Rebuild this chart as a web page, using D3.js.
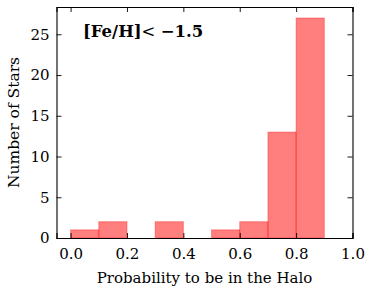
<!DOCTYPE html>
<html lang="en">
<head>
  <meta charset="UTF-8">
  <title>Halo probability</title>
  <script src="https://d3js.org/d3.v7.min.js"></script>
  <style>
    body { margin: 0; background: #fff; }
    .axis path, .axis line { stroke: #000; }
  </style>
</head>
<body>
  <svg id="chart" width="371" height="294"></svg>
  <script>
    // histogram bins (left edges), width 0.1
    const binStarts = [0.0, 0.1, 0.2, 0.3, 0.4, 0.5, 0.6, 0.7, 0.8];
    const counts = [1, 2, 0, 2, 0, 1, 2, 13, 27];
    const binWidth = 0.1;

    const xTicks = [0.0, 0.2, 0.4, 0.6, 0.8, 1.0];
    const yTicks = [0, 5, 10, 15, 20, 25];

    const serif = 'DejaVu Serif';

    const svg = d3.select('#chart');
    const mLeft = 56.5, mRight = 352.5, mTop = 7, mBottom = 238;

    const x = d3.scaleLinear().domain([-0.05, 1.0]).range([mLeft, mRight]);
    const y = d3.scaleLinear().domain([0, 28.35]).range([mBottom, mTop]);

    // bars
    svg.append('g')
      .selectAll('rect')
      .data(binStarts.map((b, i) => ({ b, c: counts[i] })).filter(d => d.c > 0))
      .enter()
      .append('rect')
      .attr('x', d => x(d.b))
      .attr('width', d => x(d.b + binWidth) - x(d.b))
      .attr('y', d => y(d.c))
      .attr('height', d => y(0) - y(d.c))
      .attr('fill', 'rgba(255,0,0,0.5)')
      .attr('stroke', 'rgba(255,0,0,0.35)')
      .attr('stroke-width', 1);

    const xMinor = d3.range(-0.05, 1.0001, 0.05).map(v => +v.toFixed(2));
    const yMinor = d3.range(0, 29, 1);

    const fmtX = d3.format('.1f');

    // bottom axis, ticks inward
    const gB = svg.append('g').attr('class', 'axis').attr('transform', `translate(0,${mBottom})`);
    gB.call(d3.axisBottom(x).tickValues(xMinor).tickSize(-2.5).tickFormat(''));
    gB.call(d3.axisBottom(x).tickValues(xTicks).tickSize(-5).tickPadding(10).tickFormat(fmtX));
    // top axis
    const gT = svg.append('g').attr('class', 'axis').attr('transform', `translate(0,${mTop})`);
    gT.call(d3.axisTop(x).tickValues(xMinor).tickSize(-2.5).tickFormat(''));
    gT.call(d3.axisTop(x).tickValues(xTicks).tickSize(-5).tickFormat(''));
    // left axis
    const gL = svg.append('g').attr('class', 'axis').attr('transform', `translate(${mLeft},0)`);
    gL.call(d3.axisLeft(y).tickValues(yMinor).tickSize(-2.5).tickFormat(''));
    gL.call(d3.axisLeft(y).tickValues(yTicks).tickSize(-5).tickPadding(7).tickFormat(d3.format('d')));
    // right axis
    const gR = svg.append('g').attr('class', 'axis').attr('transform', `translate(${mRight},0)`);
    gR.call(d3.axisRight(y).tickValues(yMinor).tickSize(-2.5).tickFormat(''));
    gR.call(d3.axisRight(y).tickValues(yTicks).tickSize(-5).tickFormat(''));

    svg.selectAll('.axis').attr('font-family', serif).attr('font-size', 15);
    svg.selectAll('.axis path').attr('stroke-width', 1.1);
    svg.selectAll('.axis line').attr('stroke-width', 0.9);
    svg.selectAll('.axis text').attr('fill', '#000');

    // axis labels
    svg.append('text')
      .attr('x', (mLeft + mRight) / 2)
      .attr('y', 283)
      .attr('text-anchor', 'middle')
      .attr('font-family', serif)
      .attr('font-size', 15)
      .text('Probability to be in the Halo');

    svg.append('text')
      .attr('transform', `translate(19,${(mTop + mBottom) / 2}) rotate(-90)`)
      .attr('text-anchor', 'middle')
      .attr('font-family', serif)
      .attr('font-size', 15.5)
      .text('Number of Stars');

    // annotation
    const note = svg.append('text')
      .attr('x', 83)
      .attr('y', 37)
      .attr('font-family', serif)
      .attr('font-size', 16.5);
    note.append('tspan').attr('font-weight', 'bold').text('[Fe/H]');
    note.append('tspan').text('< ');
    note.append('tspan').attr('font-weight', 'bold').text('\u22121.5');
  </script>
</body>
</html>
